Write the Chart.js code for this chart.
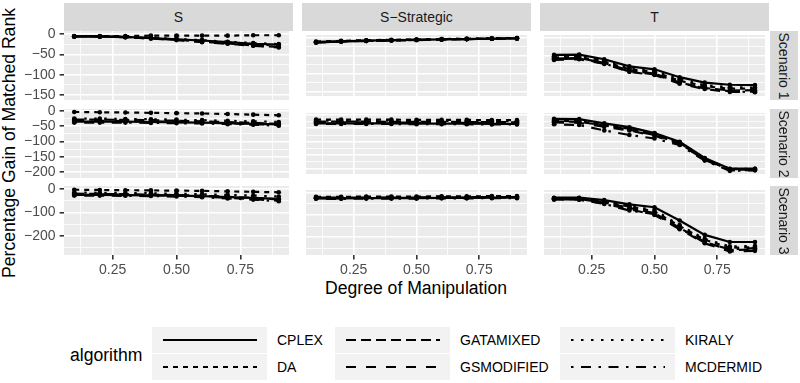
<!DOCTYPE html>
<html lang="en">
<head>
<meta charset="UTF-8">
<title>Percentage Gain of Matched Rank</title>
<script src="https://cdn.jsdelivr.net/npm/chart.js"></script>
<style>
  body { margin: 0; background: #fff; font-family: "Liberation Sans", Arial, sans-serif; }
  #wrap { position: relative; width: 800px; height: 383px; overflow: hidden; }
  #wrap canvas { position: absolute; }
  .strip { position: absolute; background: #D9D9D9; color: #1A1A1A; font-size: 14px;
           display: flex; align-items: center; justify-content: center; }
  .strip span { white-space: nowrap; }
  .strip.right span { transform: rotate(90deg); }
  .title { position: absolute; font-size: 17.6px; line-height: 18px; color: #000; white-space: nowrap; text-align: center; }
  .key { position: absolute; background: #F2F2F2; width: 115px; height: 26px; }
  .key svg { position: absolute; left: 0; top: 0; }
  .klab { position: absolute; font-size: 14px; line-height: 16px; color: #000; white-space: nowrap; }
</style>
</head>
<body>
<div id="wrap"></div>

<script>
// --- data ---
const degrees = [0.1, 0.2, 0.3, 0.4, 0.5, 0.6, 0.7, 0.8, 0.9];
const algorithms = ['CPLEX', 'DA', 'GATAMIXED', 'GSMODIFIED', 'KIRALY', 'MCDERMID'];
const columns = ['S', 'S\u2212Strategic', 'T'];
const scenarios = ['Scenario 1', 'Scenario 2', 'Scenario 3'];

const xTicks = [0.25, 0.5, 0.75];
const xMinor = [0.125, 0.375, 0.625, 0.875];
const yTicks = [[0, -50, -100, -150], [0, -50, -100, -150, -200], [0, -100, -200]];
const yMinor = [[-25, -75, -125], [-25, -75, -125, -175], [-50, -150, -250]];

// Scenario 1
const sScen1 = {
  CPLEX:      [-6, -6, -7, -10, -13, -16, -20, -24, -26],
  DA:         [-5, -5, -5, -4, -4, -4, -4, -3, -3],
  GATAMIXED:  [-6, -6, -8, -11, -14, -19, -23, -28, -32],
  GSMODIFIED: [-6, -6, -8, -11, -15, -20, -24, -29, -33],
  KIRALY:     [-6, -6, -7, -9, -12, -15, -19, -22, -25],
  MCDERMID:   [-6, -6, -7, -10, -13, -17, -21, -25, -29]
};
const ssScen1 = {
  CPLEX:      [-12, -10, -8, -7, -6, -5, -4, -3, -2],
  DA:         [-11, -9, -7, -6, -5, -4, -3, -2, -1],
  GATAMIXED:  [-13, -11, -9, -7, -6, -5, -4, -3, -2],
  GSMODIFIED: [-14, -11, -9, -8, -7, -5, -4, -3, -2],
  KIRALY:     [-12, -10, -8, -7, -6, -4, -3, -2, -1],
  MCDERMID:   [-13, -11, -9, -8, -6, -5, -4, -3, -2]
};
const tScen1 = {
  CPLEX:      [-48, -47, -60, -80, -88, -110, -125, -131, -132],
  DA:         [-55, -54, -66, -88, -95, -120, -135, -142, -142],
  GATAMIXED:  [-58, -57, -70, -92, -100, -125, -140, -147, -146],
  GSMODIFIED: [-62, -60, -73, -95, -104, -128, -143, -151, -150],
  KIRALY:     [-52, -50, -63, -85, -92, -116, -132, -138, -139],
  MCDERMID:   [-60, -58, -72, -94, -102, -126, -141, -149, -152]
};
// Scenario 2
const sScen2 = {
  CPLEX:      [-35, -35, -35, -36, -37, -38, -40, -42, -44],
  DA:         [-3, -4, -5, -6, -7, -8, -10, -12, -14],
  GATAMIXED:  [-28, -28, -29, -30, -32, -34, -36, -39, -42],
  GSMODIFIED: [-32, -32, -33, -34, -36, -38, -40, -43, -46],
  KIRALY:     [-25, -25, -26, -27, -28, -30, -32, -34, -36],
  MCDERMID:   [-38, -38, -38, -39, -40, -41, -43, -45, -48]
};
const ssScen2 = {
  CPLEX:      [-32, -32, -32, -32, -33, -33, -33, -34, -34],
  DA:         [-18, -18, -18, -18, -19, -19, -19, -20, -20],
  GATAMIXED:  [-25, -25, -25, -26, -26, -26, -27, -27, -28],
  GSMODIFIED: [-28, -28, -28, -29, -29, -29, -30, -30, -31],
  KIRALY:     [-22, -22, -22, -22, -23, -23, -23, -24, -24],
  MCDERMID:   [-34, -34, -34, -34, -35, -35, -35, -36, -36]
};
const tScen2 = {
  CPLEX:      [-15, -16, -32, -46, -68, -100, -160, -200, -200],
  DA:         [-22, -24, -38, -52, -72, -104, -163, -202, -201],
  GATAMIXED:  [-25, -26, -40, -55, -75, -106, -165, -204, -203],
  GSMODIFIED: [-28, -30, -44, -58, -78, -108, -167, -206, -205],
  KIRALY:     [-18, -20, -35, -50, -70, -102, -162, -201, -200],
  MCDERMID:   [-35, -38, -58, -75, -88, -112, -170, -208, -206]
};
// Scenario 3
const sScen3 = {
  CPLEX:      [-25, -25, -26, -27, -28, -30, -34, -38, -42],
  DA:         [-3, -4, -5, -6, -7, -8, -10, -12, -14],
  GATAMIXED:  [-20, -21, -22, -24, -26, -29, -33, -38, -44],
  GSMODIFIED: [-22, -23, -24, -26, -28, -32, -37, -43, -50],
  KIRALY:     [-15, -16, -17, -18, -20, -22, -25, -28, -32],
  MCDERMID:   [-28, -28, -29, -30, -32, -35, -40, -45, -52]
};
const ssScen3 = {
  CPLEX:      [-25, -25, -24, -24, -24, -23, -23, -22, -22],
  DA:         [-18, -18, -17, -17, -17, -16, -16, -15, -15],
  GATAMIXED:  [-22, -22, -21, -21, -21, -20, -20, -19, -19],
  GSMODIFIED: [-24, -24, -23, -23, -23, -22, -22, -21, -21],
  KIRALY:     [-20, -20, -19, -19, -19, -18, -18, -17, -17],
  MCDERMID:   [-27, -27, -26, -26, -26, -25, -25, -24, -24]
};
const tScen3 = {
  CPLEX:      [-22, -22, -33, -52, -65, -125, -190, -222, -222],
  DA:         [-25, -25, -40, -62, -84, -150, -212, -248, -245],
  GATAMIXED:  [-28, -28, -44, -68, -92, -158, -222, -258, -256],
  GSMODIFIED: [-30, -31, -48, -74, -100, -164, -228, -265, -262],
  KIRALY:     [-24, -24, -38, -58, -78, -146, -208, -242, -240],
  MCDERMID:   [-30, -30, -50, -80, -96, -160, -225, -255, -250]
};

const panels = [
  [sScen1, ssScen1, tScen1],
  [sScen2, ssScen2, tScen2],
  [sScen3, ssScen3, tScen3]
];

// --- look ---
const FONT = '"Liberation Sans", Arial, sans-serif';
const u = 2.5; // dash unit
const dashes = {
  CPLEX: [], DA: [2 * u, 2 * u], GATAMIXED: [4 * u, 2 * u], GSMODIFIED: [4 * u, 4 * u],
  KIRALY: [1 * u, 3 * u], MCDERMID: [1 * u, 3 * u, 4 * u, 3 * u]
};
const colLeft = [64, 302, 540];
const rowTop = [31, 109, 186];
const panelW = 229, panelH = 69;
const yLimits = [[-162.3, 7.4], [-219.6, 6.6], [-280.8, 12.8]];
const yLabW = 40, xLabH = 22, pad = 9;

const wrap = document.getElementById('wrap');

const panelBg = {
  id: 'panelBg',
  beforeDraw(chart) {
    const a = chart.chartArea, ctx = chart.ctx;
    ctx.save();
    ctx.fillStyle = '#EBEBEB';
    ctx.fillRect(a.left, a.top, a.right - a.left, a.bottom - a.top);
    ctx.restore();
  }
};

function minus(v) {
  return String(v).replace('-', '\u2212');
}

function makePanel(r, c) {
  const yW = c === 0 ? yLabW : 0;
  const xH = r === 2 ? xLabH : 0;
  const padTop = c === 0 ? pad : 0;
  const padBot = c === 0 && r !== 2 ? pad : 0;
  const cv = document.createElement('canvas');
  cv.width = panelW + yW;
  cv.height = panelH + xH + padTop + padBot;
  cv.style.left = (colLeft[c] - yW) + 'px';
  cv.style.top = (rowTop[r] - padTop) + 'px';
  wrap.appendChild(cv);

  const series = panels[r][c];
  const xAll = xMinor.concat(xTicks).sort((a, b) => a - b);
  const yAll = yMinor[r].concat(yTicks[r]).sort((a, b) => a - b);
  const xMajor = v => xTicks.includes(v);
  const yMajor = v => yTicks[r].includes(v);

  new Chart(cv, {
    type: 'line',
    data: {
      datasets: algorithms.map((a, i) => ({
        label: a,
        data: degrees.map((d, k) => ({ x: d, y: series[a][k] })),
        borderColor: '#000',
        backgroundColor: '#000',
        borderWidth: 2.2,
        borderDash: dashes[a],
        pointRadius: 2.3,
        pointBorderWidth: 0,
        pointBackgroundColor: '#000',
        order: algorithms.length - i
      }))
    },
    options: {
      responsive: false,
      animation: false,
      devicePixelRatio: 1,
      layout: { padding: { top: padTop, bottom: padBot, left: 0, right: 0 } },
      plugins: { legend: { display: false }, tooltip: { enabled: false } },
      scales: {
        x: {
          type: 'linear', min: 0.06, max: 0.94,
          afterBuildTicks: s => { s.ticks = xAll.map(v => ({ value: v })); },
          afterFit: s => { s.height = xH; s.paddingLeft = 0; s.paddingRight = 0; },
          ticks: {
            display: r === 2, autoSkip: false, maxRotation: 0, padding: 2,
            color: '#4D4D4D', font: { size: 14, family: FONT },
            callback: v => xMajor(v) ? v.toFixed(2) : ''
          },
          grid: {
            color: '#FFFFFF',
            lineWidth: ctx => ctx.tick && xMajor(ctx.tick.value) ? 1.6 : 0.8,
            drawTicks: r === 2, tickLength: 4.4, tickWidth: 1.6,
            tickColor: ctx => ctx.tick && xMajor(ctx.tick.value) ? '#333333' : 'rgba(0,0,0,0)'
          },
          border: { display: false }
        },
        y: {
          type: 'linear', min: yLimits[r][0], max: yLimits[r][1],
          afterBuildTicks: s => { s.ticks = yAll.map(v => ({ value: v })); },
          afterFit: s => { s.width = yW; s.paddingTop = 0; s.paddingBottom = 0; },
          ticks: {
            display: c === 0, autoSkip: false, padding: 4,
            color: '#4D4D4D', font: { size: 14, family: FONT },
            callback: v => yMajor(v) ? minus(v) : ''
          },
          grid: {
            color: '#FFFFFF',
            lineWidth: ctx => ctx.tick && yMajor(ctx.tick.value) ? 1.6 : 0.8,
            drawTicks: c === 0, tickLength: 4.4, tickWidth: 1.6,
            tickColor: ctx => ctx.tick && yMajor(ctx.tick.value) ? '#333333' : 'rgba(0,0,0,0)'
          },
          border: { display: false }
        }
      }
    },
    plugins: [panelBg]
  });
}

for (let r = 0; r < 3; r++) {
  for (let c = 0; c < 3; c++) makePanel(r, c);
}

// strips
columns.forEach((name, c) => {
  const d = document.createElement('div');
  d.className = 'strip';
  d.style.cssText = `left:${colLeft[c]}px;top:3px;width:${panelW}px;height:28px;`;
  d.innerHTML = `<span>${name}</span>`;
  wrap.appendChild(d);
});
scenarios.forEach((name, r) => {
  const d = document.createElement('div');
  d.className = 'strip right';
  d.style.cssText = `left:770px;top:${rowTop[r]}px;width:28px;height:${panelH}px;`;
  d.innerHTML = `<span>${name}</span>`;
  wrap.appendChild(d);
});

// axis titles
const xt = document.createElement('div');
xt.className = 'title';
xt.style.cssText = 'left:266px;top:279px;width:300px;';
xt.textContent = 'Degree of Manipulation';
wrap.appendChild(xt);

const yt = document.createElement('div');
yt.className = 'title';
yt.style.cssText = 'left:-141px;top:134px;width:300px;height:18px;transform:rotate(-90deg);';
yt.textContent = 'Percentage Gain of Matched Rank';
wrap.appendChild(yt);

// legend
const lt = document.createElement('div');
lt.className = 'title';
lt.style.cssText = 'left:70px;top:346px;text-align:left;';
lt.textContent = 'algorithm';
wrap.appendChild(lt);

const keyCols = [152, 335, 560];
const keyRows = [327, 354];
algorithms.forEach((a, i) => {
  const kc = Math.floor(i / 2), kr = i % 2;
  const k = document.createElement('div');
  k.className = 'key';
  k.style.left = keyCols[kc] + 'px';
  k.style.top = keyRows[kr] + 'px';
  k.innerHTML = `<svg width="115" height="26"><line x1="11" y1="13" x2="105" y2="13" stroke="#000" stroke-width="2.2" stroke-dasharray="${dashes[a].join(' ') || 'none'}"/></svg>`;
  wrap.appendChild(k);
  const t = document.createElement('div');
  t.className = 'klab';
  t.style.left = (keyCols[kc] + 125) + 'px';
  t.style.top = (keyRows[kr] + 5) + 'px';
  t.textContent = a;
  wrap.appendChild(t);
});
</script>
</body>
</html>
